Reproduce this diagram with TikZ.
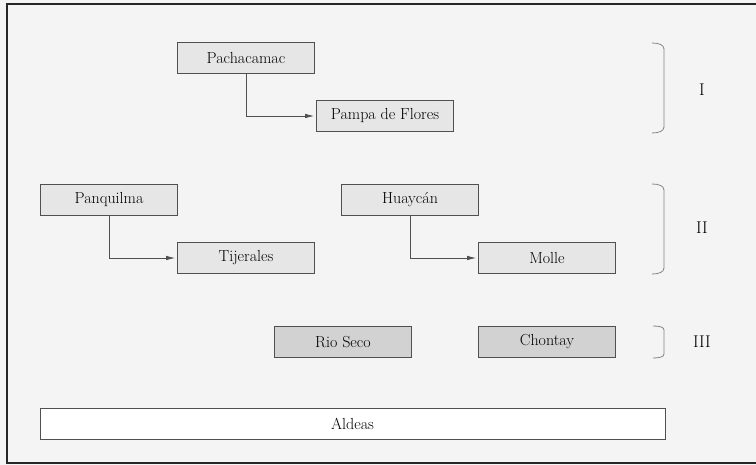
\documentclass[tikz,border=0pt]{standalone}
\usepackage{tikz}
\usetikzlibrary{arrows.meta}

\definecolor{fondo}{HTML}{F4F4F4}
\definecolor{caja}{HTML}{E6E6E6}
\definecolor{cajaosc}{HTML}{D2D2D2}
\definecolor{borde}{HTML}{505050}

\tikzset{
  sitio/.style={draw=borde, fill=caja, line width=0.9pt, minimum width=137pt, minimum height=31pt, inner sep=0pt, font=\fontsize{16}{18}\selectfont},
  sitioosc/.style={sitio, fill=cajaosc},
  flecha/.style={draw=borde, line width=0.7pt, -{Latex[length=9pt,width=4.5pt]}, shorten >=2pt},
  llave/.style={draw=borde!70, line width=0.8pt},
  nivel/.style={font=\fontsize{17}{19}\selectfont}
}

\begin{document}
\begin{tikzpicture}[x=1pt, y=-1pt]
         \useasboundingbox (0,0) rectangle (756,465);
         \fill[fondo] (0,0) rectangle (756,465);
         \draw[line width=2.5pt, black!85] (756,4) -- (7,4) -- (7,463) -- (756,463);

         % nivel I
         \node[sitio] (pach) at (246, 58) {Pachacamac};
         \node[sitio] (pampa) at (385, 116) {Pampa de Flores};
         \draw[flecha] (pach.south) |- (pampa.west);

         % nivel II
         \node[sitio] (panq) at (109, 200) {Panquilma};
         \node[sitio] (tije) at (246, 258) {Tijerales};
         \node[sitio] (huay) at (410, 200) {Huayc\'an};
         \node[sitio] (molle) at (547, 258) {Molle};
         \draw[flecha] (panq.south) |- (tije.west);
         \draw[flecha] (huay.south) |- (molle.west);

         % nivel III
         \node[sitioosc] (rio) at (343, 342) {Rio Seco};
         \node[sitioosc] (chon) at (547, 342) {Chontay};

         % aldeas
         \node[sitio, fill=white, minimum width=625pt] (aldeas) at (352.5, 424) {Aldeas};

         % llaves
         \draw[llave] (652,43) .. controls (659,43) and (664,45) .. (664,49) -- (664,127) .. controls (664,131) and (659,133) .. (652,133);
         \draw[llave] (652,184) .. controls (659,184) and (664,186) .. (664,190) -- (664,268) .. controls (664,272) and (659,274) .. (652,274);
         \draw[llave] (653,326) .. controls (659,326) and (664,327) .. (664,330) -- (664,354) .. controls (664,357) and (659,358) .. (653,358);
         \node[nivel] (n1) at (702, 90) {I};
         \node[nivel] (n2) at (702, 228) {II};
         \node[nivel] (n3) at (702, 342) {III};
\end{tikzpicture}
\end{document}
